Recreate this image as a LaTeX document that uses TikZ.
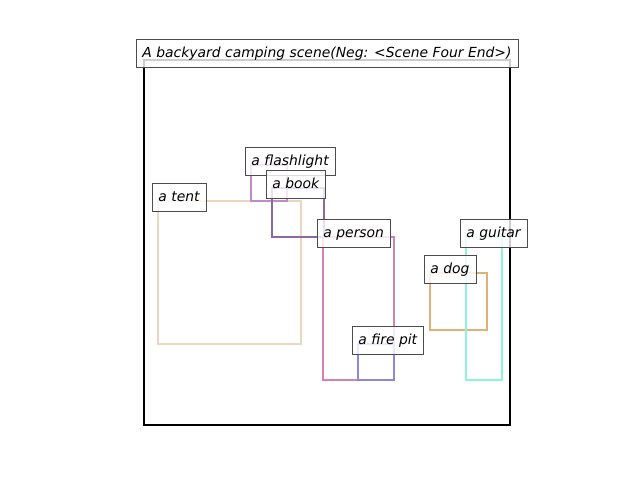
\documentclass[tikz,border=0pt]{standalone}
\usepackage{fontspec}
\setmainfont{DejaVu Sans}
\usetikzlibrary{positioning}
\definecolor{tentcolor}{RGB}{236,214,190}
\definecolor{lightcolor}{RGB}{190,140,200}
\definecolor{bookcolor}{RGB}{140,105,160}
\definecolor{personcolor}{RGB}{210,130,180}
\definecolor{pitcolor}{RGB}{140,135,220}
\definecolor{dogcolor}{RGB}{225,175,120}
\definecolor{guitarcolor}{RGB}{140,245,215}

\begin{document}
\begin{tikzpicture}[
    x=1pt, y=-1pt,
    objbox/.style={line width=2.5pt},
    tag/.style={draw=black!70, fill=white, fill opacity=0.8, text opacity=1, line width=0.9pt,
        font=\fontsize{13.9}{16}\selectfont\itshape, inner xsep=6.5pt, inner ysep=6.8pt,
        text height=10.5pt, text depth=3.2pt, anchor=base west}
]
    \useasboundingbox (0,0) rectangle (640,480);

    % Scene frame
    \draw[line width=2.6pt] (144,60) rectangle (510,425);

    % Object boxes
    \draw[objbox, tentcolor] (158,201) rectangle (301,344);
    \draw[objbox, lightcolor] (251,165) rectangle (287,201);
    \draw[objbox, bookcolor] (272,188) rectangle (324,237);
    \draw[objbox, personcolor] (323,237) rectangle (394,380);
    \draw[objbox, pitcolor] (358,344) rectangle (394,380);
    \draw[objbox, dogcolor] (430,273) rectangle (487,330);
    \draw[objbox, guitarcolor] (466,237) rectangle (502,380);

    % Labels
    \node[tag] (tent) at (151.5,201) {a tent};
    \node[tag] (flashlight) at (244.5,165) {a flashlight};
    \node[tag] (book) at (265.5,188) {a book};
    \node[tag] (person) at (316.5,237) {a person};
    \node[tag] (pit) at (351.5,344) {a fire pit};
    \node[tag] (dog) at (423.5,273) {a dog};
    \node[tag] (guitar) at (459.5,237) {a guitar};

    % Title
    \node[tag, anchor=center] (title) at (327,53.5) {A backyard camping scene(Neg: <Scene Four End>)};
\end{tikzpicture}
\end{document}
